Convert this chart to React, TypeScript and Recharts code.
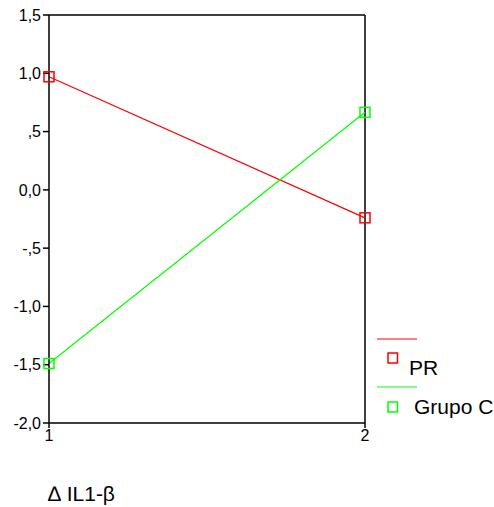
import React from "react";
import { LineChart, Line, XAxis, YAxis, ReferenceLine } from "recharts";

const xCategories = [1, 2];
const prValues = [0.97, -0.24];
const grupoCValues = [-1.49, 0.665];
const yTicks = [-2, -1.5, -1, -0.5, 0, 0.5, 1, 1.5];
const seriesNames = ["PR", "Grupo C"];
const seriesColors = ["#ff0000", "#00ff00"];
const titleText = "\u2206 IL1-\u03b2";

const data = xCategories.map((x, i) => ({ x, pr: prValues[i], grupoC: grupoCValues[i] }));

const FONT = "'Liberation Sans', Arial, sans-serif";

const fmt = (v: number) => {
  const s = Math.abs(v).toFixed(1).replace(".", ",");
  const t = s.startsWith("0,") && v !== 0 ? s.slice(1) : s;
  return (v < 0 ? "-" : "") + t;
};

const squareDot = (color: string) => (props: any) => {
  const { cx, cy, index } = props;
  if (cx == null || cy == null) return <g key={index} />;
  return (
    <rect key={index} x={cx - 5} y={cy - 5} width={10} height={10} fill="none" stroke={color} strokeWidth={1.5} />
  );
};

export default function App() {
  return (
    <div style={{ position: "fixed", left: 0, top: 0, width: 494, height: 507, fontFamily: FONT, background: "#fff" }}>
      <LineChart width={494} height={507} data={data} margin={{ top: 15, right: 129, bottom: 54, left: 0 }}>
        <XAxis
          type="number"
          dataKey="x"
          domain={[1, 2]}
          ticks={xCategories}
          height={30}
          tickSize={5}
          tickMargin={2}
          stroke="#000"
          strokeWidth={1.5}
          tick={{ fill: "#000", fontSize: 16, fontFamily: FONT }}
        />
        <YAxis
          type="number"
          domain={[-2, 1.5]}
          ticks={yTicks}
          width={49}
          tickSize={6}
          tickMargin={2}
          tickFormatter={fmt}
          stroke="#000"
          strokeWidth={1.5}
          interval={0}
          tick={{ fill: "#000", fontSize: 16, fontFamily: FONT }}
        />
        <ReferenceLine y={1.5} stroke="#000" strokeWidth={1.5} ifOverflow="visible" />
        <ReferenceLine x={2} stroke="#000" strokeWidth={1.5} ifOverflow="visible" />
        <Line
          dataKey="pr"
          name={seriesNames[0]}
          stroke={seriesColors[0]}
          strokeWidth={1.2}
          dot={squareDot(seriesColors[0])}
          activeDot={false}
          isAnimationActive={false}
        />
        <Line
          dataKey="grupoC"
          name={seriesNames[1]}
          stroke={seriesColors[1]}
          strokeWidth={1.2}
          dot={squareDot(seriesColors[1])}
          activeDot={false}
          isAnimationActive={false}
        />
      </LineChart>
      <svg
        width={494}
        height={507}
        style={{ position: "absolute", left: 0, top: 0, pointerEvents: "none" }}
      >
        <line x1={377} x2={417} y1={339} y2={339} stroke={seriesColors[0]} strokeWidth={1.2} />
        <rect x={388} y={353} width={9.5} height={10} fill="none" stroke={seriesColors[0]} strokeWidth={1.5} />
        <text x={409} y={375} fontSize={21} fontFamily={FONT} fill="#000">{seriesNames[0]}</text>
        <line x1={377} x2={417} y1={387} y2={387} stroke={seriesColors[1]} strokeWidth={1.2} />
        <rect x={388} y={402} width={9.5} height={10} fill="none" stroke={seriesColors[1]} strokeWidth={1.5} />
        <text x={414} y={414} fontSize={21} fontFamily={FONT} fill="#000">{seriesNames[1]}</text>
        <text x={48} y={501} fontSize={21} fontFamily={FONT} fill="#000">{titleText}</text>
      </svg>
    </div>
  );
}
